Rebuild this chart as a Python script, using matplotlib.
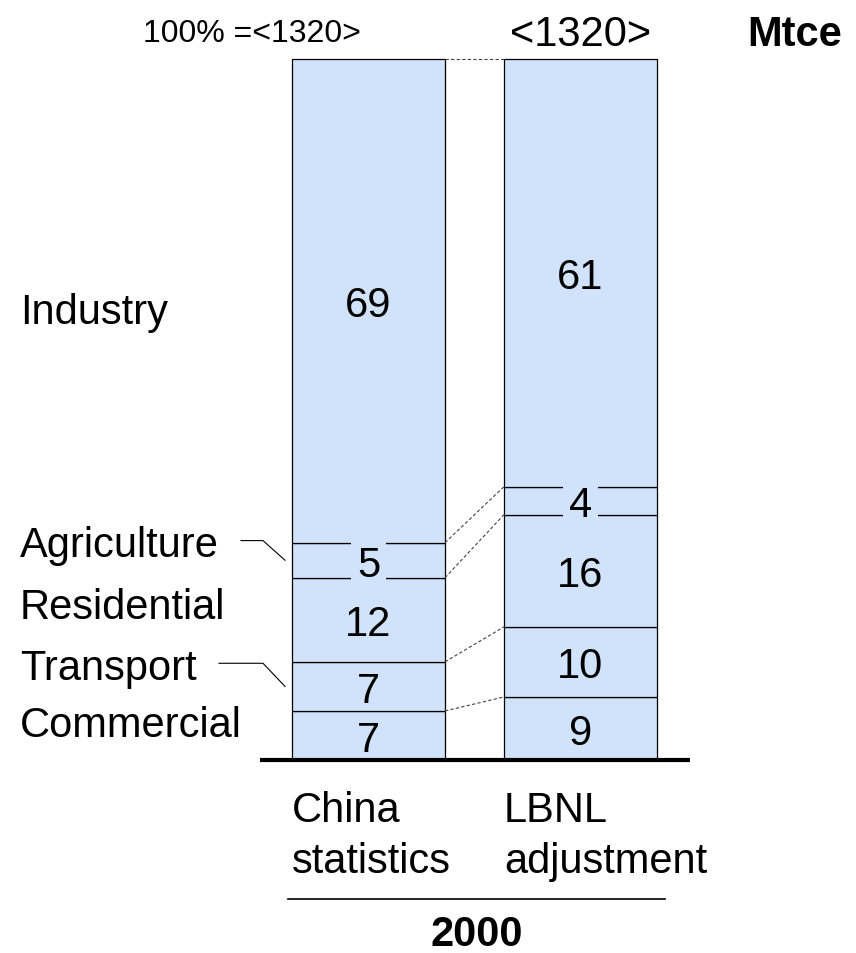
import matplotlib.pyplot as plt

plt.rcParams['font.family'] = ['Liberation Sans', 'DejaVu Sans']

# data
sectors = ['Commercial', 'Transport', 'Residential', 'Agriculture', 'Industry']
china_stats = [7, 7, 12, 5, 69]
lbnl_adj = [9, 10, 16, 4, 61]
bar_names = ['China\nstatistics', 'LBNL\nadjustment']
totals = ['<1320>', '<1320>']
year = '2000'
unit = 'Mtce'

# layout (x in pixels, y in percent of the bar)
bar_x = [368.5, 580.5]
bar_w = 153
bar_color = '#D0E3FA'
fs = 30
label_y = [5.6, 13.8, 22.4, 31.3, 64.5]

fig = plt.figure(figsize=(8.56, 9.54), dpi=100)
ax = fig.add_axes([0, 0, 1, 1])
ax.set_xlim(0, 856)
ax.set_ylim(-27.53, 108.56)
ax.axis('off')

tops = []
for x, vals in zip(bar_x, [china_stats, lbnl_adj]):
    bottom = 0
    edges = []
    for v in vals:
        ax.bar(x, v, bottom=bottom, width=bar_w, color=bar_color,
               edgecolor='black', linewidth=0.9, zorder=1)
        box = None
        if v <= 5:
            box = dict(boxstyle='square,pad=0.15', fc=bar_color, ec='none')
        ax.text(x, bottom + v / 2, str(v), ha='center', va='center_baseline',
                fontsize=fs, bbox=box, zorder=3)
        bottom += v
        edges.append(bottom)
    tops.append(edges)

# dashed connectors between bars
for y1, y2 in zip(tops[0], tops[1]):
    ax.plot([bar_x[0] + bar_w / 2, bar_x[1] - bar_w / 2], [y1, y2],
            color='#444444', linewidth=0.8, linestyle=(0, (3, 2)), zorder=2)

# left labels
for name, ly in zip(sectors, label_y):
    ax.text(20, ly, name, ha='left', va='center_baseline', fontsize=fs)

# leader lines for thin segments
bounds = [0]
for v in china_stats:
    bounds.append(bounds[-1] + v)
for i, xs in [(1, 219), (3, 241)]:
    mid = (bounds[i] + bounds[i + 1]) / 2
    ax.plot([xs, 263, 285], [label_y[i], label_y[i], mid],
            color='black', linewidth=0.8)

# baseline
ax.plot([260, 690], [0, 0], color='black', linewidth=3, solid_capstyle='butt')

# category labels
for x, name in zip(bar_x, bar_names):
    ax.text(x - bar_w / 2, -4.3, name, ha='left', va='top', fontsize=fs,
            linespacing=1.36)

ax.plot([288, 665], [-19.8, -19.8], color='black', linewidth=1.2)
ax.text(477, -24.2, year, ha='center', va='center_baseline', fontsize=fs,
        fontweight='bold')

# header
ax.text(252, 104.2, '100% =' + totals[0], ha='center', va='center_baseline',
        fontsize=23)
ax.text(bar_x[1], 104.2, totals[1], ha='center', va='center_baseline', fontsize=fs)
ax.text(795, 104.2, unit, ha='center', va='center_baseline', fontsize=fs,
        fontweight='bold')

fig.savefig('out.png', dpi=100)
